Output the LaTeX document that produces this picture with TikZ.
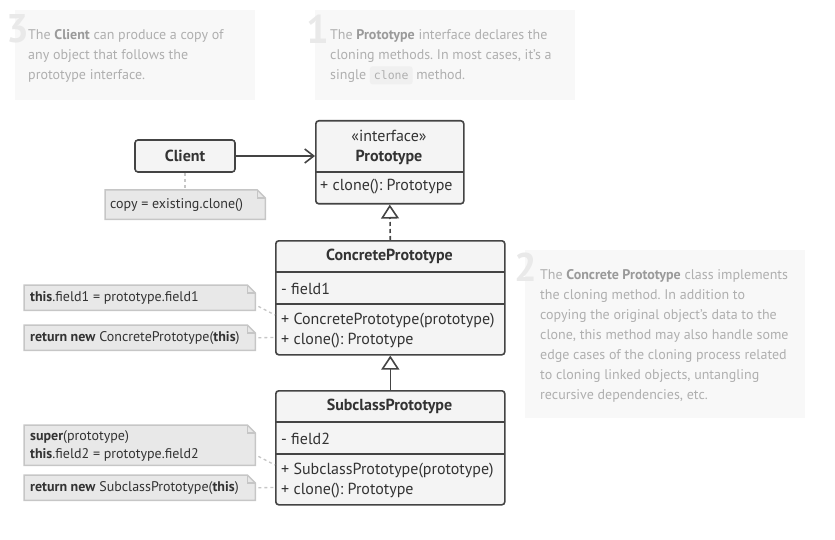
\documentclass[tikz,border=0pt]{standalone}
\usepackage{fontspec}
\setmainfont{PT Sans}
\setmonofont{DejaVu Sans Mono}
\usetikzlibrary{arrows.meta,backgrounds}
\definecolor{boxfill}{HTML}{F4F4F4}
\definecolor{boxline}{HTML}{444444}
\definecolor{boxtext}{HTML}{333333}
\definecolor{notefill}{HTML}{E8E8E8}
\definecolor{noteline}{HTML}{C6C6C6}
\definecolor{descfill}{HTML}{F8F8F8}
\definecolor{desctext}{HTML}{AFAFAF}
\definecolor{descbold}{HTML}{9A9A9A}
\definecolor{digitcol}{HTML}{E9E9E9}
\definecolor{codefill}{HTML}{F0F0F0}
\newcommand\dB[1]{\textcolor{descbold}{\textbf{#1}}}
\newcommand\notebox[1]{%
  \begin{scope}[on background layer]
  \draw[noteshape] (#1.north west) -- ([xshift=-8pt]#1.north east) -- ([yshift=-8pt]#1.north east) -- (#1.south east) -- (#1.south west) -- cycle;
  \draw[noteshape,fill=none] ([xshift=-8pt]#1.north east) |- ([yshift=-8pt]#1.north east);
  \end{scope}}
\frenchspacing
\begin{document}
\begin{tikzpicture}[x=1pt,y=-1pt,
  umlbox/.style={draw=boxline,fill=boxfill,line width=1.6pt,rounded corners=3pt,inner sep=0pt},
  umlline/.style={draw=boxline,line width=1.6pt},
  umltext/.style={text=boxtext,font=\fontsize{16}{18}\selectfont,inner sep=0pt},
  umlbold/.style={umltext,font=\fontsize{16}{18}\selectfont\bfseries},
  notetext/.style={text=boxtext,font=\fontsize{14}{18}\selectfont,inner sep=0pt,align=left},
  notearea/.style={minimum width=231pt,inner sep=0pt,anchor=north west},
  noteshape/.style={draw=noteline,fill=notefill,line width=1.5pt},
  notelink/.style={draw=noteline,line width=1.3pt,dash pattern=on 3pt off 3pt},
  descbox/.style={fill=descfill,draw=none,inner sep=0pt,anchor=north west},
  desctextst/.style={text=desctext,font=\fontsize{14}{20}\selectfont,inner sep=0pt,align=left,anchor=north west},
  digit/.style={text=digitcol,font=\fontsize{40}{40}\selectfont\bfseries,inner sep=0pt},
  realize/.style={draw=boxline,line width=1.6pt,dash pattern=on 4pt off 3pt,-{Triangle[open,length=14pt,width=18pt,line width=1.6pt]}},
  inherit/.style={draw=boxline,line width=1.6pt,-{Triangle[open,length=14pt,width=18pt,line width=1.6pt]}},
  assoc/.style={draw=boxline,line width=1.6pt,-{Straight Barb[length=9pt,width=14pt,line width=1.6pt]}}
]
\useasboundingbox (0,0) rectangle (835,540);

% description boxes
\node[descbox,minimum width=240pt,minimum height=90pt] (d3) at (15,10) {};
\node[digit] (d3n) at (18,29) {3};
\node[desctextst] (d3t) at (28,29.5) {The \dB{Client} can produce a copy of\\any object that follows the\\prototype interface.};

\node[descbox,minimum width=260pt,minimum height=90pt] (d1) at (315,10) {};
\node[digit] (d1n) at (318,29) {1};
\node[desctextst] (d1t) at (330,29.5) {The \dB{Prototype} interface declares the\\cloning methods. In most cases, it's a\\single \tikz[baseline=(c.base)]\node[fill=codefill,rounded corners=2.5pt,inner xsep=4pt,inner ysep=4.5pt,text=desctext,font=\ttfamily\fontsize{11.5}{13}\selectfont] (c) {clone}; method.};

\node[descbox,minimum width=280pt,minimum height=168pt] (d2) at (525,250) {};
\node[digit] (d2n) at (526,267) {2};
\node[desctextst] (d2t) at (540,269.5) {The \dB{Concrete Prototype} class implements\\the cloning method. In addition to\\copying the original object's data to the\\clone, this method may also handle some\\edge cases of the cloning process related\\to cloning linked objects, untangling\\recursive dependencies, etc.};

% Client
\node[umlbox,minimum width=100pt,minimum height=32pt] (client) at (185,156) {};
\node[umlbold] (clientt) at (185,156) {Client};

% client note
\node[notearea,minimum width=160pt,minimum height=29pt] (cn) at (105,190) {};
\notebox{cn}
\node[notetext,anchor=west] (cnt) at (110,205) {copy = existing.clone()};
\draw[notelink] (client.south) -- (cn.north -| client.south);

% Prototype
\node[umlbox,minimum width=148pt,minimum height=83pt,anchor=north west] (proto) at (315,120) {};
\draw[umlline] (315,172) -- (463,172);
\node[umltext] (protos) at (389,136) {«interface»};
\node[umlbold] (proton) at (389,157) {Prototype};
\node[umltext,anchor=west] (protom) at (320,187) {+ clone(): Prototype};

\draw[assoc] (client.east) -- (proto.west |- client.east);

% ConcretePrototype
\node[umlbox,minimum width=229pt,minimum height=114pt,anchor=north west] (cp) at (275,240) {};
\draw[umlline] (275,272) -- (504,272);
\draw[umlline] (275,304) -- (504,304);
\node[umlbold] (cpn) at (389.5,256.5) {ConcretePrototype};
\node[umltext,anchor=west] (cpf) at (281,288.5) {- field1};
\node[umltext,anchor=west] (cpm1) at (281,320.5) {+ ConcretePrototype(prototype)};
\node[umltext,anchor=west] (cpm2) at (281,340.5) {+ clone(): Prototype};

\draw[realize] (cp.north) -- (proto.south);

% SubclassPrototype
\node[umlbox,minimum width=229pt,minimum height=114pt,anchor=north west] (sp) at (275,390) {};
\draw[umlline] (275,422) -- (504,422);
\draw[umlline] (275,454) -- (504,454);
\node[umlbold] (spn) at (389.5,406.5) {SubclassPrototype};
\node[umltext,anchor=west] (spf) at (281,438.5) {- field2};
\node[umltext,anchor=west] (spm1) at (281,470.5) {+ SubclassPrototype(prototype)};
\node[umltext,anchor=west] (spm2) at (281,490.5) {+ clone(): Prototype};

\draw[inherit] (sp.north) -- (cp.south);

% notes left
\node[notearea,minimum height=25pt] (n1) at (24,285) {};
\notebox{n1}
\node[notetext,anchor=west] (n1t) at (30,298) {\textbf{this}.field1 = prototype.field1};
\node[notearea,minimum height=25pt] (n2) at (24,325) {};
\notebox{n2}
\node[notetext,anchor=west] (n2t) at (30,338) {\textbf{return new} ConcretePrototype(\textbf{this})};
\node[notearea,minimum height=40pt] (n3) at (24,425) {};
\notebox{n3}
\node[notetext,anchor=west] (n3t) at (30,446) {\textbf{super}(prototype)\\\textbf{this}.field2 = prototype.field2};
\node[notearea,minimum height=25pt] (n4) at (24,475) {};
\notebox{n4}
\node[notetext,anchor=west] (n4t) at (30,488) {\textbf{return new} SubclassPrototype(\textbf{this})};

\coordinate (cpa) at (275,315);
\coordinate (cpb) at (275,337.5);
\coordinate (spa) at (275,465);
\coordinate (spb) at (275,487.5);
\draw[notelink] ([xshift=3pt,yshift=4pt]n1.south east) -- (cpa);
\draw[notelink] ([xshift=3pt]n2.east) -- (cpb);
\draw[notelink] ([xshift=3pt,yshift=9pt]n3.south east) -- (spa);
\draw[notelink] ([xshift=3pt]n4.east) -- (spb);
\end{tikzpicture}
\end{document}
